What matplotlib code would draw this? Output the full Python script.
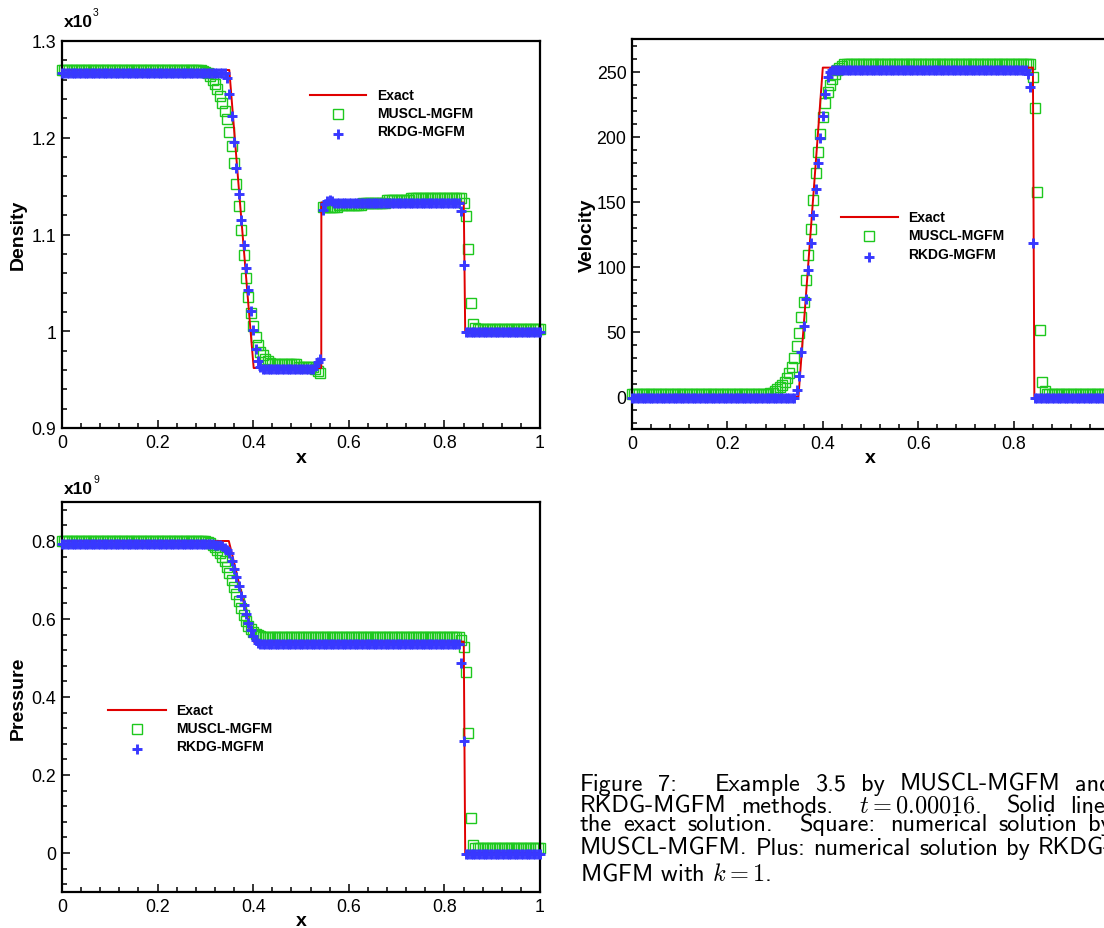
import numpy as np
import matplotlib
matplotlib.use('Agg')
import matplotlib.pyplot as plt
from matplotlib.lines import Line2D
from matplotlib.ticker import MultipleLocator, FuncFormatter

plt.rcParams['font.family'] = ['Liberation Sans', 'DejaVu Sans']
plt.rcParams['mathtext.fontset'] = 'cm'

# ---------------- data ----------------
n_cells = 200
x_nodes = np.linspace(0.0, 1.0, n_cells + 1)          # uniform mesh, dx = 0.005

# Density (x10^3)
rho_muscl = ([1.270] * 58 +
             [1.270, 1.269, 1.268, 1.267, 1.264, 1.260, 1.256, 1.250, 1.243, 1.236,
              1.228, 1.219, 1.206, 1.191, 1.174, 1.152, 1.129, 1.105, 1.079, 1.055,
              1.035, 1.019, 1.005, 0.994, 0.986, 0.979, 0.975, 0.971, 0.969, 0.967] +
             [0.966] * 11 + [0.963] * 7 + [0.961, 0.959, 0.957] + [1.128] +
             [1.128] * 6 + [1.130] * 10 + [1.133] * 10 + [1.136] * 10 + [1.138] * 22 +
             [1.133, 1.119, 1.085, 1.029, 1.007, 1.003] + [1.002] * 27)
rho_rkdg = ([1.267] * 69 +
            [1.262, 1.245, 1.222, 1.196, 1.169, 1.142, 1.115, 1.089, 1.065, 1.043,
             1.021, 1.001, 0.982, 0.969, 0.963] +
            [0.961] * 22 + [0.964, 0.968, 0.971] +
            [1.125, 1.132, 1.135, 1.136, 1.135] + [1.133] * 53 +
            [1.124, 1.068] + [0.999] * 32)
rho_exact_x = [0.0, 0.350, 0.372, 0.392, 0.401, 0.5424, 0.5426, 0.8405, 0.8435, 1.0]
rho_exact = [1.270, 1.270, 1.135, 1.015, 0.962, 0.962, 1.133, 1.133, 1.000, 1.000]

# Velocity
u_muscl = ([2.0] * 58 +
           [2.5, 3, 4, 5.5, 7, 9, 11, 14, 18, 23, 30, 39, 49, 61, 73, 90, 109, 129,
            151, 172, 188, 202, 215, 226, 234, 240, 244, 248, 251, 253, 254] +
           [256] * 79 + [246, 222, 157, 51, 11, 4] + [2.0] * 27)
u_rkdg = ([-1.0] * 69 +
          [5, 16, 34, 54, 75, 97, 118, 140, 160, 180, 199, 216, 233, 246, 250] +
          [251] * 82 + [248, 238, 118] + [-1.0] * 32)
u_exact_x = [0.0, 0.349, 0.400, 0.8405, 0.8435, 1.0]
u_exact = [0.0, 0.0, 253.0, 253.0, 0.0, 0.0]

# Pressure (x10^9)
p_muscl = ([0.800] * 60 +
           [0.799, 0.797, 0.794, 0.790, 0.784, 0.777, 0.769, 0.760, 0.749, 0.734,
            0.717, 0.700, 0.682, 0.664, 0.646, 0.628, 0.611, 0.596, 0.583, 0.574,
            0.567, 0.562, 0.559, 0.557, 0.555] +
           [0.553] * 82 + [0.546, 0.527, 0.464, 0.308, 0.090, 0.021, 0.013] +
           [0.012] * 27)
p_rkdg = ([0.792] * 64 +
          [0.791, 0.790, 0.789, 0.787, 0.783, 0.777, 0.768, 0.750, 0.729, 0.707,
           0.684, 0.660, 0.636, 0.612, 0.590, 0.571, 0.556, 0.545, 0.539, 0.537] +
          [0.536] * 83 + [0.487, 0.286] + [-0.002] * 32)
p_exact_x = [0.0, 0.349, 0.360, 0.370, 0.380, 0.390, 0.401, 0.8405, 0.8435, 1.0]
p_exact = [0.800, 0.800, 0.745, 0.693, 0.643, 0.595, 0.542, 0.542, 0.000, 0.000]

series_names = ['Exact', 'MUSCL-MGFM', 'RKDG-MGFM']

# ---------------- styling ----------------
W, H = 1104, 929
RED = '#e00000'
GREEN = '#1ec81e'
BLUE = '#3838ff'
SQ_MS, SQ_MEW = 7.0, 1.0
PL_MS, PL_MEW = 6.8, 2.1

fig = plt.figure(figsize=(W / 100, H / 100), dpi=100)


def fx(x):
    return x / W


def fy(y):
    return 1 - y / H


def make_axes(l, t, r, b):
    return fig.add_axes([fx(l), fy(b), (r - l) / W, (b - t) / H])


fmt = FuncFormatter(lambda v, p: f'{v:g}')


def style(ax, ylim, ymaj, ymin):
    ax.set_xlim(0, 1)
    ax.set_ylim(*ylim)
    ax.xaxis.set_major_locator(MultipleLocator(0.2))
    ax.xaxis.set_minor_locator(MultipleLocator(0.04))
    ax.yaxis.set_major_locator(MultipleLocator(ymaj))
    ax.yaxis.set_minor_locator(MultipleLocator(ymin))
    ax.xaxis.set_major_formatter(fmt)
    ax.yaxis.set_major_formatter(fmt)
    ax.tick_params(which='both', direction='in', top=False, right=False,
                   labelsize=12.8, pad=4, colors='black')
    ax.tick_params(which='major', length=6, width=1.1)
    ax.tick_params(which='minor', length=3.6, width=1.1)
    for s in ax.spines.values():
        s.set_linewidth(1.6)


def draw_series(ax, muscl, rkdg, ex_x, ex_y):
    ax.plot(x_nodes, muscl, ls='none', marker='s', ms=SQ_MS, mfc='none', mec=GREEN,
            mew=SQ_MEW, clip_on=False, zorder=2)
    ax.plot(ex_x, ex_y, color=RED, lw=1.4, zorder=3)
    ax.plot(x_nodes, rkdg, ls='none', marker='+', ms=PL_MS, mec=BLUE, mew=PL_MEW,
            clip_on=False, zorder=4)


def legend(xl0, xl1, xm, xt, ys):
    fig.add_artist(Line2D([fx(xl0), fx(xl1)], [fy(ys[0]), fy(ys[0])],
                          transform=fig.transFigure, color=RED, lw=1.5))
    fig.add_artist(Line2D([fx(xm)], [fy(ys[1] + 1)], transform=fig.transFigure,
                          ls='none', marker='s', ms=SQ_MS, mfc='none', mec=GREEN,
                          mew=SQ_MEW))
    fig.add_artist(Line2D([fx(xm)], [fy(ys[2] + 3)], transform=fig.transFigure,
                          ls='none', marker='+', ms=PL_MS, mec=BLUE, mew=PL_MEW))
    for name, y in zip(series_names, ys):
        fig.text(fx(xt), fy(y), name, fontsize=10, fontweight='bold',
                 va='center', ha='left')


def scale_label(x, y_base, exp):
    fig.text(fx(x), fy(y_base), 'x10', fontsize=12.5, fontweight='bold',
             va='baseline', ha='left')
    fig.text(fx(x + 29), fy(y_base - 11), exp, fontsize=7.5,
             va='baseline', ha='left')


# Density panel
ax1 = make_axes(62, 42, 540, 429)
draw_series(ax1, rho_muscl, rho_rkdg, rho_exact_x, rho_exact)
style(ax1, (0.9, 1.3), 0.1, 0.02)
legend(310, 366, 338, 377, [96, 114, 132])
scale_label(64, 27, '3')
fig.text(fx(23), fy(235), 'Density', rotation=90, rotation_mode='anchor',
         fontsize=14, fontweight='bold', ha='center', va='baseline')
fig.text(fx(301), fy(463), 'x', fontsize=14, fontweight='bold',
         ha='center', va='baseline')

# Velocity panel
ax2 = make_axes(632, 40, 1109, 430)
draw_series(ax2, u_muscl, u_rkdg, u_exact_x, u_exact)
style(ax2, (-25, 275), 50, 10)
legend(841, 898, 869, 908, [218, 236, 255])
fig.text(fx(592), fy(235), 'Velocity', rotation=90, rotation_mode='anchor',
         fontsize=14, fontweight='bold', ha='center', va='baseline')
fig.text(fx(870), fy(463), 'x', fontsize=14, fontweight='bold',
         ha='center', va='baseline')

# Pressure panel
ax3 = make_axes(62, 503, 540, 893)
draw_series(ax3, p_muscl, p_rkdg, p_exact_x, p_exact)
style(ax3, (-0.1, 0.9), 0.2, 0.04)
legend(108, 166, 137, 176, [711, 729, 747])
scale_label(64, 494, '9')
fig.text(fx(23), fy(698), 'Pressure', rotation=90, rotation_mode='anchor',
         fontsize=14, fontweight='bold', ha='center', va='baseline')
fig.text(fx(301), fy(926), 'x', fontsize=14, fontweight='bold',
         ha='center', va='baseline')

# ---------------- caption (justified like LaTeX) ----------------
CAP_FS = 17.5
CAP_FONT = 'cmss10'
x0_cap, x1_cap = 580, 1112
caption_lines = [
    (["Figure", "7:", "Example", "3.5", "by", "MUSCL-MGFM", "and"],
     [1, 2.6, 1, 1, 1, 1], 791),
    (["RKDG-MGFM", "methods.", "$t=0.00016$.", "Solid", "line:"],
     [1, 1.8, 1.8, 1], 813),
    (["the", "exact", "solution.", "Square:", "numerical", "solution", "by"],
     [1, 1, 2.4, 1.3, 1, 1], 831),
    (["MUSCL-MGFM.", "Plus:", "numerical", "solution", "by", "RKDG-"],
     [1, 1, 1, 1, 1], 855),
]
renderer = fig.canvas.get_renderer()
for words, weights, yb in caption_lines:
    texts = [fig.text(0, fy(yb), w, fontsize=CAP_FS, fontfamily=CAP_FONT,
                      va='baseline', ha='left') for w in words]
    widths = [t.get_window_extent(renderer).width for t in texts]
    gap = max((x1_cap - x0_cap - sum(widths)) / sum(weights), 5.0)
    xc = x0_cap
    for t, wd, wt in zip(texts, widths, weights + [0]):
        t.set_x(fx(xc))
        xc += wd + gap * wt
fig.text(fx(x0_cap), fy(881), 'MGFM with $k=1$.', fontsize=CAP_FS,
         fontfamily=CAP_FONT, va='baseline', ha='left')

fig.savefig('out.png', dpi=100)
